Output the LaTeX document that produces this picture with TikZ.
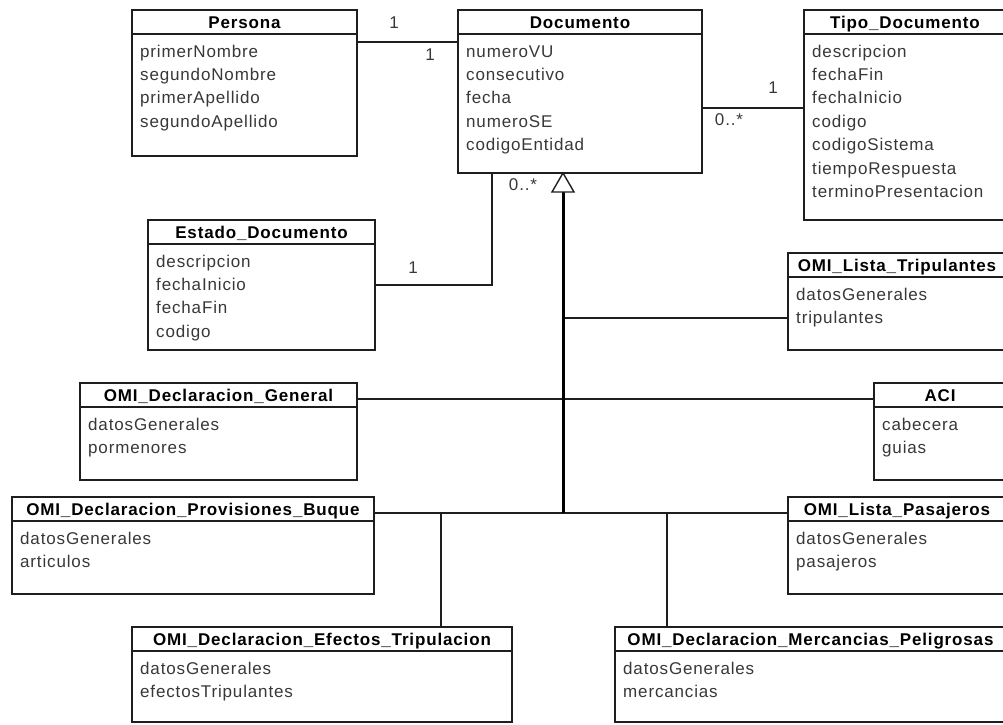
\documentclass[tikz,border=0pt]{standalone}
\usepackage{fontspec}
\setmainfont{Liberation Sans}[LetterSpace=5]
\usetikzlibrary{calc}

\definecolor{edge}{HTML}{1E1E1E}
\definecolor{attrtext}{HTML}{383838}

\tikzset{
  clsbox/.style={draw=edge, line width=1.4pt, fill=white, rectangle,
    inner sep=0pt, outer sep=0pt, anchor=north west},
  clsrule/.style={draw=edge, line width=1.4pt},
  clstitle/.style={font=\fontsize{17pt}{20pt}\selectfont\bfseries, text=black,
    inner sep=0pt, anchor=base},
  clsattr/.style={font=\fontsize{17pt}{20pt}\selectfont, text=attrtext,
    inner sep=0pt, anchor=base west},
  assoc/.style={draw=edge, line width=1.4pt},
  inherit/.style={draw=edge, line width=1.4pt},
  trunk/.style={draw=black, line width=3pt},
  mult/.style={font=\fontsize{17pt}{20pt}\selectfont, text=attrtext, inner sep=0pt},
}

% class box: name, left, top, right, bottom, title, attribute list
\newcommand{\umlclass}[7]{%
  \pgfmathsetmacro{\clsw}{#4-#2}%
  \pgfmathsetmacro{\clsh}{#5-#3}%
  \node[clsbox, minimum width=\clsw pt, minimum height=\clsh pt] (#1) at (#2pt,-#3pt) {};
  \draw[clsrule] ($(#1.north west)+(0,-24pt)$) -- ($(#1.north east)+(0,-24pt)$);
  \node[clstitle] (#1-title) at ($(#1.north)+(0,-18pt)$) {#6};
  \foreach \a [count=\i] in {#7} {
    \node[clsattr] (#1-\i) at ($(#1.north west)+(8pt,{-47pt-(\i-1)*23.4pt})$) {\a};
  }
}

\begin{document}
\begin{tikzpicture}
\useasboundingbox (0,0) rectangle (1003pt,-724pt);
\fill[white] (0,0) rectangle (1003pt,-724pt);
\clip (0,0) rectangle (1003pt,-724pt);

% classes
\umlclass{Persona}{132}{10}{357}{156}{Persona}
  {primerNombre,segundoNombre,primerApellido,segundoApellido}
\umlclass{Documento}{458}{10}{702}{173}{Documento}
  {numeroVU,consecutivo,fecha,numeroSE,codigoEntidad}
\umlclass{Tipo}{804}{10}{1006}{220}{Tipo\_Documento}
  {descripcion,fechaFin,fechaInicio,codigo,codigoSistema,tiempoRespuesta,terminoPresentacion}
\umlclass{Estado}{148}{220}{375}{350}{Estado\_Documento}
  {descripcion,fechaInicio,fechaFin,codigo}
\umlclass{Tripulantes}{788}{253}{1006}{350}{OMI\_Lista\_Tripulantes}
  {datosGenerales,tripulantes}
\umlclass{General}{80}{383}{357}{480}{OMI\_Declaracion\_General}
  {datosGenerales,pormenores}
\umlclass{ACI}{874}{383}{1006}{480}{ACI}
  {cabecera,guias}
\umlclass{Provisiones}{12}{497}{374}{594}{OMI\_Declaracion\_Provisiones\_Buque}
  {datosGenerales,articulos}
\umlclass{Pasajeros}{788}{497}{1006}{594}{OMI\_Lista\_Pasajeros}
  {datosGenerales,pasajeros}
\umlclass{Efectos}{132}{627}{512}{722}{OMI\_Declaracion\_Efectos\_Tripulacion}
  {datosGenerales,efectosTripulantes}
\umlclass{Mercancias}{615}{627}{1006}{722}{OMI\_Declaracion\_Mercancias\_Peligrosas}
  {datosGenerales,mercancias}

% associations
\draw[assoc] ($(Persona.north east)+(0,-32pt)$) -- ($(Documento.north west)+(0,-32pt)$);
\draw[assoc] ($(Documento.north east)+(0,-98pt)$) -- ($(Tipo.north west)+(0,-98pt)$);
\draw[assoc] ($(Estado.north east)+(0,-65pt)$) -| ($(Documento.south west)+(34pt,0)$);

% multiplicities
\node[mult] (mPersona) at (394pt,-23pt) {1};
\node[mult] (mDocPersona) at (430pt,-55pt) {1};
\node[mult] (mTipo) at (773pt,-88pt) {1};
\node[mult] (mDocTipo) at (729pt,-120pt) {0..*};
\node[mult] (mDocEstado) at (523pt,-185pt) {0..*};
\node[mult] (mEstado) at (413pt,-268pt) {1};

% generalization tree
\coordinate (genApex) at ($(Documento.south west)+(105pt,0)$);
\coordinate (genBase) at ($(genApex)+(0,-19pt)$);
\coordinate (provLink) at ($(Provisiones.north east)+(0,-16pt)$);
\coordinate (pasLink) at ($(Pasajeros.north west)+(0,-16pt)$);
\coordinate (tripLink) at ($(Tripulantes.north west)+(0,-65pt)$);
\coordinate (genLink) at ($(General.north east)+(0,-16pt)$);
\coordinate (aciLink) at ($(ACI.north west)+(0,-16pt)$);
\coordinate (efeLink) at ($(Efectos.north west)+(309pt,0)$);
\coordinate (merLink) at ($(Mercancias.north west)+(52pt,0)$);

\draw[inherit] (genBase |- tripLink) -- (tripLink);
\draw[inherit] (genLink) -- (aciLink);
\draw[inherit] (provLink) -- (pasLink);
\draw[inherit] (efeLink) -- (efeLink |- provLink);
\draw[inherit] (merLink) -- (merLink |- provLink);
\draw[trunk] (genBase) -- (genBase |- provLink);
\draw[inherit, fill=white] (genApex) -- ++(-11pt,-19pt) -- ++(22pt,0) -- cycle;
\end{tikzpicture}
\end{document}
